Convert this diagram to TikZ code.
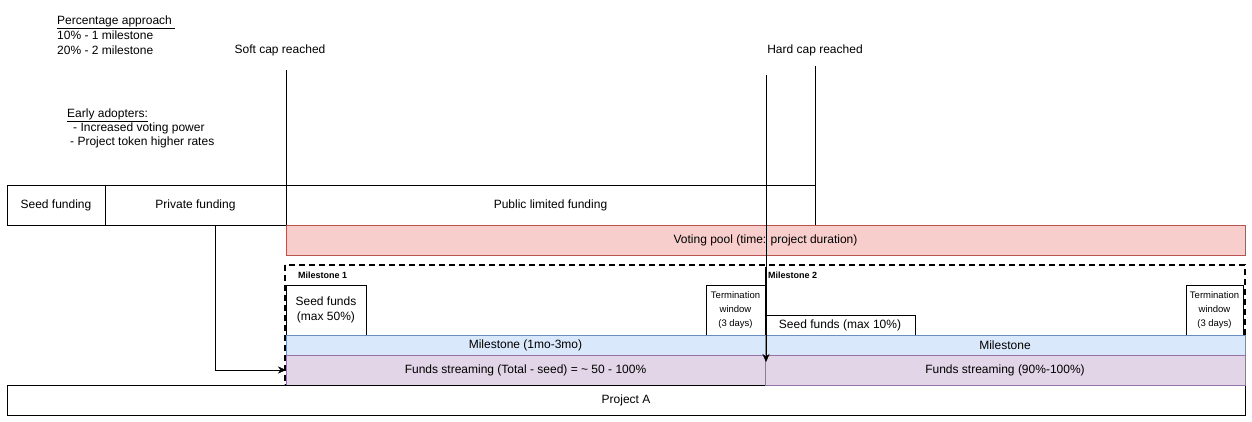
\documentclass[tikz,border=0pt]{standalone}
\usepackage{fontspec}
\setmainfont{Liberation Sans}
\usepackage{xcolor}
\usetikzlibrary{arrows.meta}

\definecolor{poolfill}{HTML}{F8CECC}
\definecolor{pooldraw}{HTML}{B85450}
\definecolor{msfill}{HTML}{DAE8FC}
\definecolor{msdraw}{HTML}{6C8EBF}
\definecolor{streamfill}{HTML}{E1D5E7}
\definecolor{streamdraw}{HTML}{9673A6}

\tikzset{
	box/.style={draw, anchor=north west, inner sep=0pt, outer sep=0pt, align=center, fill=white},
	small/.style={font=\fontsize{9.5}{14}\selectfont},
	tag/.style={anchor=west, inner sep=0pt, font=\fontsize{9}{11}\selectfont\bfseries},
	note/.style={anchor=west, inner sep=0pt, align=left}
}

\begin{document}
\begin{tikzpicture}[x=1pt, y=-1pt, font=\fontsize{12}{15}\selectfont]
	\useasboundingbox (0,0) rectangle (1252,421);

	% notes at the top
	\node[note] (percent) at (57,35) {\underline{Percentage approach\ }\\10\% - 1 milestone\\20\% - 2 milestone};
	\node[note] (early) at (67,115) {\underline{Early adopters:}};
	\node[note] (voting) at (73,128) {- Increased voting power};
	\node[note] (rates) at (70,142) {- Project token higher rates};
	\node (softlbl) at (280,50) {Soft cap reached};
	\node (hardlbl) at (815,50) {Hard cap reached};

	% milestones frame (behind the boxes)
	\coordinate (frameA) at (285,265);
	\coordinate (frameB) at (1245,385);
	\draw[line width=1.5pt, dash pattern=on 6pt off 4pt] (frameA) rectangle (frameB);

	% funding rounds
	\node[box, minimum width=98, minimum height=40] (seed) at (7,185) {Seed funding};
	\node[box, minimum width=181, minimum height=40] (private) at (105,185) {Private funding};
	\node[box, minimum width=529, minimum height=40] (public) at (286,185) {Public limited funding};
	\node[box, draw=pooldraw, fill=poolfill, minimum width=959, minimum height=30] (pool) at (286,225) {Voting pool (time: project duration)};

	% milestone 1
	\node[tag] (ms1) at (298,275) {Milestone 1};
	\node[box, fill=none, minimum width=80, minimum height=50] (seedfunds1) at (286,285) {Seed funds\\(max 50\%)};
	\node[box, small, minimum width=59, minimum height=50] (term1) at (706,285) {Termination\\window\\(3 days)};
	\node[box, draw=msdraw, fill=msfill, minimum width=479, minimum height=20] (phase1) at (286,335) {Milestone (1mo-3mo)};
	\node[box, draw=streamdraw, fill=streamfill, minimum width=479, minimum height=30] (stream1) at (286,355) {Funds streaming (Total - seed) = \textasciitilde\ 50 - 100\%};

	\node[box, fill=none, minimum width=1238, minimum height=30] (project) at (7,385) {Project A};

	% milestone 2
	\node[tag] (ms2) at (768,275) {Milestone 2};
	\node[box, minimum width=150, minimum height=20] (seedfunds2) at (765,315) {Seed funds (max 10\%)};
	\node[box, small, minimum width=57, minimum height=50] (term2) at (1186,285) {Termination\\window\\(3 days)};
	\node[box, draw=msdraw, fill=msfill, minimum width=480, minimum height=20] (phase2) at (765,335) {Milestone};
	\node[box, draw=streamdraw, fill=streamfill, minimum width=480, minimum height=30] (stream2) at (765,355) {Funds streaming (90\%-100\%)};
	\coordinate (ms2top) at (765,267);
	\draw (ms2top) -- (seedfunds2.north west);

	% caps and flows
	\coordinate (soft) at (286,70);
	\draw (soft) -- (public.north west);
	\coordinate (hard) at (815,66);
	\draw (hard) -- (public.south east);
	\coordinate (capA) at (766,75);
	\coordinate (capB) at (766,362);
	\draw[-{Stealth[length=8pt, width=7pt]}] (capA) -- (capB);
	\draw[-{Stealth[length=8pt, width=7pt]}] ([xshift=20pt]private.south) |- (stream1.west);
\end{tikzpicture}
\end{document}
